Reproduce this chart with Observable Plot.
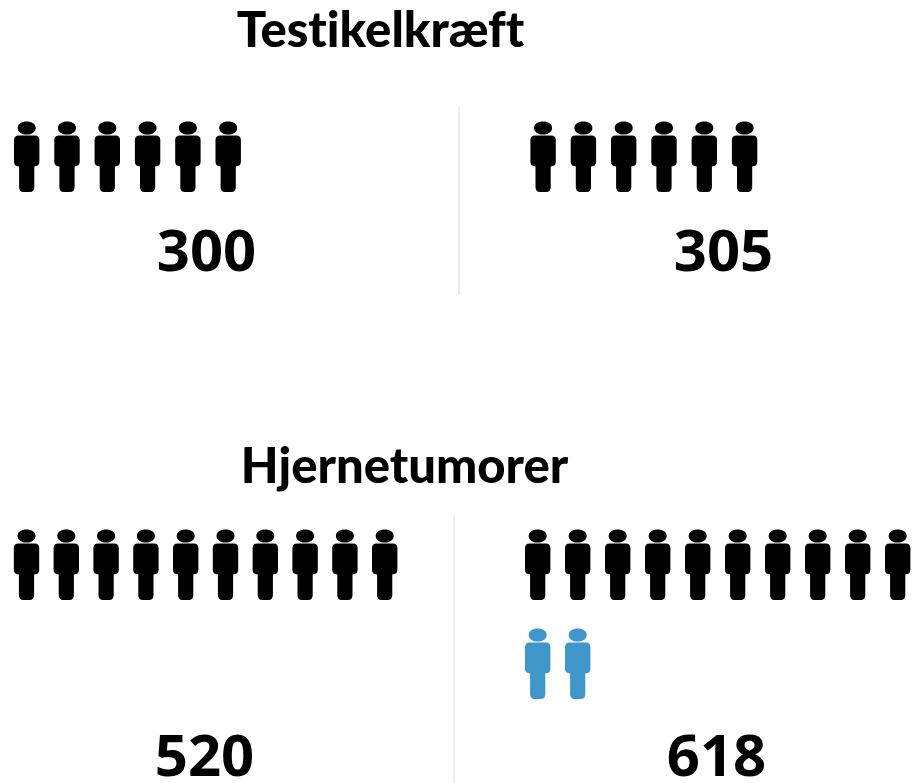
<!DOCTYPE html>
<html>
<head>
<meta charset="utf-8">
<script src="https://cdn.jsdelivr.net/npm/d3@7"></script>
<script src="https://cdn.jsdelivr.net/npm/@observablehq/plot@0.6"></script>
<style>html,body{margin:0;padding:0;background:#fff}svg{display:block}svg text{font-variant-ligatures:none}</style>
</head>
<body>
<div id="chart"></div>
<script>
const groups = ["Testikelkræft", "Hjernetumorer"];
const panelGroups = ["Testikelkræft", "Testikelkræft", "Hjernetumorer", "Hjernetumorer"];
const panelValues = [300, 305, 520, 618];
const iconsBlack = [6, 6, 10, 10];
const iconsBlue = [0, 0, 0, 2];

// layout only (pixels in the identity position scales)
const titleLayout = [{x: 380, y: 31}, {x: 404, y: 467}];
const panelLayout = [
  {x0: 26.2, dx: 40.3, y0: 156.5, labelX: 206, labelY: 252},
  {x0: 542.6,dx: 40.3, y0: 156.5, labelX: 723, labelY: 252},
  {x0: 26,   dx: 39.8, y0: 564.5, labelX: 204, labelY: 757},
  {x0: 537.2,dx: 40,   y0: 564.5, labelX: 716, labelY: 757}
];
const dividers = [
  {x: 458.5, y1: 107, y2: 295},
  {x: 453.5, y1: 515, y2: 783}
];
const rowGap = 99;

const person = {
  draw(c, size) {
    const k = Math.sqrt(size / Math.PI) / 10;
    const p = (v) => v * k;
    // head
    c.moveTo(p(-9), p(-29));
    c.bezierCurveTo(p(-9), p(-33), p(-5), p(-35.4), p(0), p(-35.4));
    c.bezierCurveTo(p(5), p(-35.4), p(9), p(-33), p(9), p(-29));
    c.bezierCurveTo(p(9), p(-25), p(5), p(-22.4), p(0), p(-22.4));
    c.bezierCurveTo(p(-5), p(-22.4), p(-9), p(-25), p(-9), p(-29));
    c.closePath();
    // torso and legs
    c.moveTo(p(-8), p(-21.5));
    c.lineTo(p(8), p(-21.5));
    c.quadraticCurveTo(p(12.7), p(-21.5), p(12.7), p(-17));
    c.lineTo(p(12.7), p(5));
    c.quadraticCurveTo(p(12.7), p(9), p(7.6), p(9.5));
    c.lineTo(p(7.6), p(30));
    c.quadraticCurveTo(p(7.6), p(35), p(3), p(35));
    c.lineTo(p(-3), p(35));
    c.quadraticCurveTo(p(-7.6), p(35), p(-7.6), p(30));
    c.lineTo(p(-7.6), p(9.5));
    c.quadraticCurveTo(p(-12.7), p(9), p(-12.7), p(5));
    c.lineTo(p(-12.7), p(-17));
    c.quadraticCurveTo(p(-12.7), p(-21.5), p(-8), p(-21.5));
    c.closePath();
  }
};

const blackIcons = panelLayout.flatMap((l, i) =>
  d3.range(iconsBlack[i]).map(j => ({x: l.x0 + j * l.dx, y: l.y0})));
const blueIcons = panelLayout.flatMap((l, i) =>
  d3.range(iconsBlue[i]).map(j => ({x: l.x0 + j * l.dx, y: l.y0 + rowGap})));
const titles = groups.map((g, i) => ({label: g, ...titleLayout[i]}));
const labels = panelValues.map((v, i) => ({
  label: String(v), group: panelGroups[i],
  x: panelLayout[i].labelX, y: panelLayout[i].labelY
}));

const chart = Plot.plot({
  width: 912,
  height: 783,
  margin: 0,
  style: {background: "#fff"},
  x: {type: "linear", domain: [0, 912], range: [0, 912], axis: null},
  y: {type: "linear", domain: [0, 783], range: [0, 783], axis: null},
  marks: [
    Plot.ruleX(dividers, {x: "x", y1: "y1", y2: "y2", stroke: "#d9d9d9", strokeWidth: 1}),
    Plot.dot(blackIcons, {x: "x", y: "y", r: 10, symbol: person, fill: "#000", stroke: "none"}),
    Plot.dot(blueIcons, {x: "x", y: "y", r: 10, symbol: person, fill: "#3f96cb", stroke: "none"}),
    Plot.text(titles, {x: "x", y: "y", text: "label", fontFamily: "Lato", fontWeight: 900, fontSize: 49, fill: "#000", textAnchor: "middle", lineAnchor: "middle"}),
    Plot.text(labels, {x: "x", y: "y", text: "label", fontFamily: "Open Sans", fontWeight: 700, fontSize: 58, fill: "#000", textAnchor: "middle", lineAnchor: "middle"})
  ]
});
document.getElementById("chart").appendChild(chart);
</script>
</body>
</html>
